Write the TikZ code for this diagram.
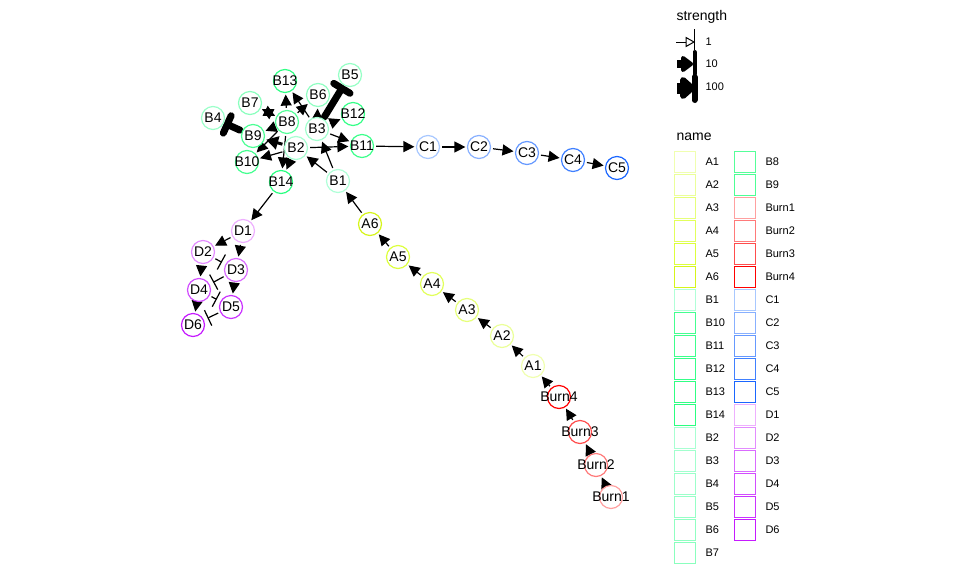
\documentclass[tikz,border=0pt]{standalone}
\usepackage{fontspec}
\setmainfont{Liberation Sans}
\usetikzlibrary{arrows.meta}
\pgfdeclarelayer{edgelayer}
\pgfsetlayers{edgelayer,main}
% node colours
\definecolor{cA1}{HTML}{F0FFB0}\definecolor{cA2}{HTML}{EBFF99}\definecolor{cA3}{HTML}{E6FF7A}
\definecolor{cA4}{HTML}{E2FF5C}\definecolor{cA5}{HTML}{DDFF3D}\definecolor{cA6}{HTML}{D6F51A}
\definecolor{cB1}{HTML}{B0FFD8}\definecolor{cB10}{HTML}{44FF90}\definecolor{cB11}{HTML}{3DFF8C}
\definecolor{cB12}{HTML}{36FF88}\definecolor{cB13}{HTML}{30FF84}\definecolor{cB14}{HTML}{2AFF80}
\definecolor{cB2}{HTML}{A8FFD2}\definecolor{cB3}{HTML}{A2FFCE}\definecolor{cB4}{HTML}{9CFFCA}
\definecolor{cB5}{HTML}{96FFC6}\definecolor{cB6}{HTML}{90FFC2}\definecolor{cB7}{HTML}{8AFFBE}
\definecolor{cB8}{HTML}{55FF99}\definecolor{cB9}{HTML}{4DFF95}
\definecolor{cBu1}{HTML}{FFA0A0}\definecolor{cBu2}{HTML}{FF7A7A}\definecolor{cBu3}{HTML}{FF4D4D}\definecolor{cBu4}{HTML}{FF0000}
\definecolor{cC1}{HTML}{A8C8FF}\definecolor{cC2}{HTML}{88B0FF}\definecolor{cC3}{HTML}{6699FF}
\definecolor{cC4}{HTML}{4080FF}\definecolor{cC5}{HTML}{1A66FF}
\definecolor{cD1}{HTML}{EEB0FF}\definecolor{cD2}{HTML}{E38CFF}\definecolor{cD3}{HTML}{DA6BFF}
\definecolor{cD4}{HTML}{D24DFF}\definecolor{cD5}{HTML}{CB33FF}\definecolor{cD6}{HTML}{C61AFF}
\begin{document}
\begin{tikzpicture}[x=1pt,y=-1pt,
  nd/.style={circle, draw=#1, fill=white, line width=1.2pt, minimum size=23pt, inner sep=0pt,
             font=\fontsize{14}{15}\selectfont},
  act/.style={line width=1.2pt, shorten >=1.5pt, shorten <=2pt, -{Triangle[length=11pt,width=11pt]}},
  actmid/.style={line width=3pt, shorten >=1.5pt, shorten <=2pt, -{Triangle[length=12pt,width=13pt]}},
  inh/.style={line width=1.2pt, shorten >=4pt, shorten <=2pt, -{Bar[width=17pt]}},
  inhbig/.style={line width=7pt, line cap=round, shorten >=0pt, shorten <=2pt, -{Bar[width=19pt,round]}},
  keybox/.style={draw=#1, fill=white, line width=1.2pt, minimum size=21pt, inner sep=0pt},
  keylab/.style={anchor=west, font=\fontsize{11}{12}\selectfont},
  legtitle/.style={anchor=base west, font=\fontsize{14}{15}\selectfont}
]
\useasboundingbox (0,0) rectangle (960,576);

% ---------- nodes ----------
\node[nd=cD6] (D6) at (193,325) {\makebox[0pt]{D6}};
\node[nd=cD5] (D5) at (231,307) {\makebox[0pt]{D5}};
\node[nd=cD4] (D4) at (199,290) {\makebox[0pt]{D4}};
\node[nd=cD3] (D3) at (236,270) {\makebox[0pt]{D3}};
\node[nd=cD2] (D2) at (203,252) {\makebox[0pt]{D2}};
\node[nd=cD1] (D1) at (243,231) {\makebox[0pt]{D1}};

\node[nd=cB5] (B5) at (350,75) {\makebox[0pt]{B5}};
\node[nd=cB13] (B13) at (285,81) {\makebox[0pt]{B13}};
\node[nd=cB7] (B7) at (250,103) {\makebox[0pt]{B7}};
\node[nd=cB4] (B4) at (213,118) {\makebox[0pt]{B4}};
\node[nd=cB12] (B12) at (353,114) {\makebox[0pt]{B12}};
\node[nd=cB6] (B6) at (318,95) {\makebox[0pt]{B6}};
\node[nd=cB10] (B10) at (247,162) {\makebox[0pt]{B10}};
\node[nd=cB14] (B14) at (281,182) {\makebox[0pt]{B14}};
\node[nd=cB1] (B1) at (338,181) {\makebox[0pt]{B1}};
\node[nd=cB11] (B11) at (362,146) {\makebox[0pt]{B11}};
\node[nd=cB9] (B9) at (253,136) {\makebox[0pt]{B9}};
\node[nd=cB8] (B8) at (287,122) {\makebox[0pt]{B8}};
\node[nd=cB3] (B3) at (317,129) {\makebox[0pt]{B3}};
\node[nd=cB2] (B2) at (296,148) {\makebox[0pt]{B2}};

\node[nd=cC1] (C1) at (428,147) {\makebox[0pt]{C1}};
\node[nd=cC2] (C2) at (479,147) {\makebox[0pt]{C2}};
\node[nd=cC3] (C3) at (527,153) {\makebox[0pt]{C3}};
\node[nd=cC4] (C4) at (573,160) {\makebox[0pt]{C4}};
\node[nd=cC5] (C5) at (617,168) {\makebox[0pt]{C5}};

\node[nd=cA6] (A6) at (370,224) {\makebox[0pt]{A6}};
\node[nd=cA5] (A5) at (398,257) {\makebox[0pt]{A5}};
\node[nd=cA4] (A4) at (432,284) {\makebox[0pt]{A4}};
\node[nd=cA3] (A3) at (467,310) {\makebox[0pt]{A3}};
\node[nd=cA2] (A2) at (502,336) {\makebox[0pt]{A2}};
\node[nd=cA1] (A1) at (533,366) {\makebox[0pt]{A1}};

\node[nd=cBu4] (Burn4) at (559,397) {\makebox[0pt]{Burn4}};
\node[nd=cBu3] (Burn3) at (580,432) {\makebox[0pt]{Burn3}};
\node[nd=cBu2] (Burn2) at (596,465) {\makebox[0pt]{Burn2}};
\node[nd=cBu1] (Burn1) at (611,497) {\makebox[0pt]{Burn1}};

% ---------- edges ----------
\begin{pgfonlayer}{edgelayer}
\draw[act] (Burn1) -- (Burn2);
\draw[act] (Burn2) -- (Burn3);
\draw[act] (Burn3) -- (Burn4);
\draw[act] (Burn4) -- (A1);
\draw[act] (A1) -- (A2);
\draw[act] (A2) -- (A3);
\draw[act] (A3) -- (A4);
\draw[act] (A4) -- (A5);
\draw[act] (A5) -- (A6);
\draw[act] (A6) -- (B1);
\draw[act] (B1) -- (B2);
\draw[act] (B1) -- (B3);
\draw[act] (B2) -- (B11);
\draw[act] (B3) -- (B11);
\draw[act] (B11) -- (C1);
\draw[act] (C1) -- (C2);
\draw[act] (C2) -- (C3);
\draw[act] (C3) -- (C4);
\draw[act] (C4) -- (C5);
\draw[act] (B3) -- (B12);
\draw[act] (B3) -- (B6);
\draw[act] (B8) -- (B6);
\draw[act] (B8) -- (B13);
\draw[act] (B3) -- (B13);
\draw[act] (B7) -- (B8);
\draw[act] (B8) -- (B7);
\draw[act] (B8) -- (B9);
\draw[actmid] (B2) -- (B9);
\draw[act] (B2) -- (B10);
\draw[act] (B8) -- (B10);
\draw[act] (B2) -- (B14);
\draw[act] (B8) -- (B14);
\draw[act] (B14) -- (D1);
\draw[inhbig] (B3) -- (B5);
\draw[inhbig] (B9) -- (B4);
\draw[act] (D1) -- (D2);
\draw[act] (D1) -- (D3);
\draw[act] (D2) -- (D4);
\draw[act] (D3) -- (D5);
\draw[act] (D4) -- (D6);
\draw[inh] (D2) -- (D3);
\draw[inh] (D3) -- (D4);
\draw[inh] (D4) -- (D5);
\draw[inh] (D5) -- (D6);
\end{pgfonlayer}

% ---------- legend: strength ----------
\node[legtitle] (tstr) at (673,20) {strength};
\coordinate (k1a) at (676,42); \coordinate (k1b) at (686,42);
\draw[line width=1pt] (k1a) -- (k1b);
\draw[line width=1pt, fill=white] (686,37.5) -- (694,42) -- (686,46.5) -- cycle;
\draw[line width=1.2pt] (694.5,29) -- (694.5,50);
\draw[line width=8pt] (677,64) -- (686,64);
\draw[line width=4pt, line join=round, fill] (683,58) -- (691,64) -- (683,70) -- cycle;
\draw[line width=4pt, line cap=round] (694.5,52) -- (694.5,74);
\draw[line width=11pt] (677,88) -- (686,88);
\draw[line width=6pt, line join=round, fill] (683,80) -- (692,88) -- (683,96) -- cycle;
\draw[line width=6pt, line cap=round] (694.5,77) -- (694.5,100);
\node[keylab] (s1) at (702,42) {1};
\node[keylab] (s10) at (702,64) {10};
\node[keylab] (s100) at (702,87) {100};

% ---------- legend: name ----------
\node[legtitle] (tname) at (673,140) {name};
\foreach \lab/\col [count=\i from 0] in {A1/cA1,A2/cA2,A3/cA3,A4/cA4,A5/cA5,A6/cA6,B1/cB1,B10/cB10,B11/cB11,B12/cB12,B13/cB13,B14/cB14,B2/cB2,B3/cB3,B4/cB4,B5/cB5,B6/cB6,B7/cB7}{
  \node[keybox=\col] (ka\i) at (685,162+23*\i) {};
  \node[keylab] (la\i) at (702,162+23*\i) {\lab};
}
\foreach \lab/\col [count=\i from 0] in {B8/cB8,B9/cB9,Burn1/cBu1,Burn2/cBu2,Burn3/cBu3,Burn4/cBu4,C1/cC1,C2/cC2,C3/cC3,C4/cC4,C5/cC5,D1/cD1,D2/cD2,D3/cD3,D4/cD4,D5/cD5,D6/cD6}{
  \node[keybox=\col] (kb\i) at (745,162+23*\i) {};
  \node[keylab] (lb\i) at (762,162+23*\i) {\lab};
}
\end{tikzpicture}
\end{document}
